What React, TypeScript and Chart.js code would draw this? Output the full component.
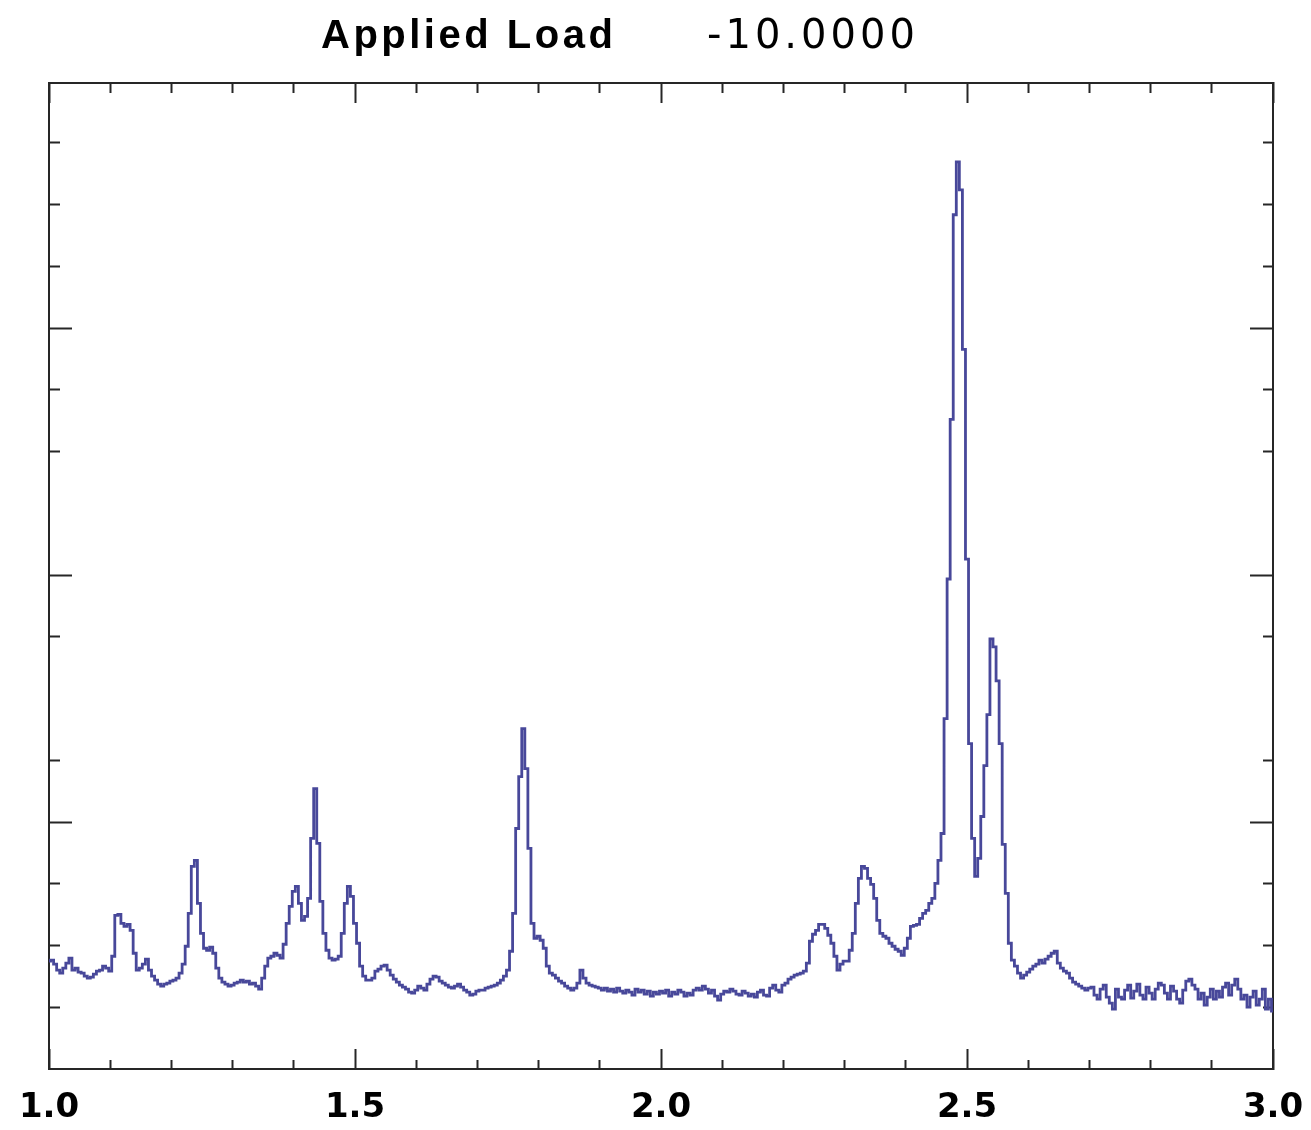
import React, { useEffect, useRef } from "react";
import { Chart, registerables } from "chart.js";

Chart.register(...registerables);

// ---- text ----
const TITLE_LABEL = "Applied Load";
const TITLE_VALUE = "-10.0000";

// ---- x axis (sampling grid and ticks) ----
const X_MIN = 1.0;
const X_MAX = 3.0;
const X_START = 1.0;
const X_STEP = 0.005;
const X_TICKS = [1.0, 1.1, 1.2, 1.3, 1.4, 1.5, 1.6, 1.7, 1.8, 1.9, 2.0, 2.1, 2.2, 2.3, 2.4, 2.5, 2.6, 2.7, 2.8, 2.9, 3.0];
const X_LABELED_TICKS = [1.0, 1.5, 2.0, 2.5, 3.0];

// ---- y axis (no labels, uneven minor/major marks) ----
const Y_MIN = 0;
const Y_MAX = 988;
const Y_TICK_STEP = 61.875;
const Y_TICK_INDEX = [1, 2, 3, 4, 5, 7, 8, 10, 11, 12, 13, 14, 15];
const Y_MAJOR_INDEX = [4, 8, 12];

// ---- series: intensity, one value per X_STEP ----
const intensity1 = [
  108, 109, 105, 99, 96, 101, 106, 111, 99, 101, 97, 96, 93, 91, 92, 95, 98, 99, 103, 101, 98,
  113, 154, 155, 146, 143, 145, 139, 116, 99, 101, 105, 110, 99, 93, 89, 85, 83, 85, 86, 88,
  89, 91, 96, 105, 123, 156, 203, 209, 166, 136, 121, 119, 122, 116, 101, 91, 87, 85, 83, 84,
  86, 87, 89, 87, 88, 85, 86, 83, 80, 91, 103, 111, 113, 116, 114, 111, 125, 146, 163, 178,
  183, 166, 149, 153, 171, 231, 281, 226, 168, 136, 119, 111, 109, 110, 113, 136, 166, 183, 173, 146,
];
const intensity2 = [
  126, 103, 93, 89, 89, 91, 98, 100, 103, 104, 99, 94, 90, 87, 84, 82, 80, 77, 76, 79,
  83, 81, 79, 85, 90, 93, 92, 88, 86, 84, 82, 81, 83, 85, 82, 79, 77, 74, 75, 78,
  79, 79, 81, 82, 83, 84, 86, 89, 93, 99, 118, 156, 241, 293, 341, 301, 221, 146, 131, 133,
  129, 121, 103, 96, 94, 91, 88, 86, 83, 81, 79, 81, 86, 99, 91, 86, 84, 83, 82, 81,
  79, 81, 78, 80, 77, 81, 78, 76, 79, 77, 74, 80, 77, 79, 75, 78, 73, 77, 75, 78,
];
const intensity3 = [
  76, 79, 73, 77, 75, 79, 77, 73, 76, 74, 79, 81, 79, 83, 80, 76, 79, 73, 69, 75,
  78, 77, 80, 78, 75, 74, 78, 76, 73, 75, 72, 77, 79, 74, 73, 81, 84, 79, 77, 84,
  86, 90, 92, 94, 95, 96, 98, 106, 128, 135, 139, 145, 145, 141, 134, 126, 113, 99, 105, 108,
  108, 119, 136, 166, 191, 203, 201, 191, 185, 171, 149, 136, 133, 131, 126, 123, 120, 118, 114, 121,
  131, 143, 144, 145, 151, 156, 159, 166, 171, 186, 209, 236, 351, 491, 651, 856, 909, 881, 721, 511,
];
const intensity4 = [
  326, 231, 193, 211, 253, 304, 355, 431, 423, 389, 326, 225, 176, 126, 109, 103, 96, 91, 94, 97,
  100, 103, 105, 109, 106, 110, 113, 116, 118, 106, 101, 98, 96, 91, 87, 85, 83, 81, 79, 81,
  82, 74, 70, 80, 84, 72, 66, 60, 80, 72, 70, 79, 84, 71, 78, 85, 74, 70, 82, 76,
  70, 80, 86, 84, 76, 70, 83, 78, 70, 66, 79, 88, 90, 84, 80, 70, 76, 64, 72, 80,
  70, 78, 72, 82, 86, 74, 84, 90, 80, 70, 74, 62, 72, 78, 64, 70, 80, 60, 70, 58,
];
const intensity = [...intensity1, ...intensity2, ...intensity3, ...intensity4];
const wavelength = intensity.map((_, i) => +(X_START + i * X_STEP).toFixed(3));

// ---- styles ----
const LINE_COLOR = "#48489a";
const FRAME_COLOR = "#262626";

const near = (a: number, b: number) => Math.abs(a - b) < 1e-6;
const isXMajor = (v: number) => X_LABELED_TICKS.some((m) => near(m, v));
const isYMajor = (v: number) => Y_MAJOR_INDEX.some((k) => near(k * Y_TICK_STEP, v));

const titlePlugin = {
  id: "loadTitle",
  afterDraw(chart: any) {
    const ctx = chart.ctx as any;
    const area = chart.chartArea;
    ctx.save();
    ctx.fillStyle = "#000";
    ctx.textAlign = "left";
    ctx.textBaseline = "alphabetic";
    ctx.font = 'bold 40px "Liberation Sans"';
    ctx.letterSpacing = "3.5px";
    ctx.fillText(TITLE_LABEL, area.left + 272, 48);
    ctx.font = '40px "DejaVu Sans"';
    ctx.letterSpacing = "4px";
    ctx.fillText(TITLE_VALUE, area.left + 658, 48);
    ctx.letterSpacing = "0px";
    ctx.restore();
  },
};

export default function App() {
  const ref = useRef<HTMLCanvasElement | null>(null);

  useEffect(() => {
    document.body.style.margin = "0";
    document.body.style.overflow = "hidden";
    const canvas = ref.current;
    if (!canvas) return;

    const xTicks = (s: any) => {
      s.ticks = X_TICKS.map((v) => ({ value: v }));
    };
    const yTicks = (s: any) => {
      s.ticks = Y_TICK_INDEX.map((k) => ({ value: k * Y_TICK_STEP }));
    };
    const border = { display: true, color: FRAME_COLOR, width: 2 };
    const smallFont = { size: 10, lineHeight: 1 };

    const chart = new Chart(canvas, {
      type: "line",
      data: {
        datasets: [
          {
            data: wavelength.map((x, i) => ({ x, y: intensity[i] })),
            borderColor: LINE_COLOR,
            borderWidth: 2.8,
            pointRadius: 0,
            fill: false,
            stepped: "middle",
            xAxisID: "x",
            yAxisID: "y",
          },
        ],
      },
      options: {
        animation: false,
        responsive: false,
        events: [],
        layout: { padding: { top: 0, left: 0, right: 0, bottom: -38 } },
        plugins: { legend: { display: false }, tooltip: { enabled: false }, title: { display: false } },
        scales: {
          x: {
            type: "linear",
            position: "bottom",
            min: X_MIN,
            max: X_MAX,
            afterBuildTicks: xTicks,
            border,
            grid: {
              drawOnChartArea: false,
              drawTicks: true,
              tickLength: -20,
              tickWidth: 2,
              tickColor: FRAME_COLOR,
              tickBorderDash: (c: any) => (c.tick && !isXMajor(c.tick.value) ? [10, 100] : []),
            },
            ticks: {
              autoSkip: false,
              maxRotation: 0,
              minRotation: 0,
              padding: 0,
              color: "#000",
              font: { family: "DejaVu Sans", weight: "bold", size: 34, lineHeight: 119 / 34 },
              callback: (v: any) => (isXMajor(Number(v)) ? Number(v).toFixed(1) : ""),
            },
          },
          x2: {
            type: "linear",
            position: "top",
            min: X_MIN,
            max: X_MAX,
            afterBuildTicks: xTicks,
            border,
            grid: {
              drawOnChartArea: false,
              drawTicks: true,
              tickLength: -20,
              tickWidth: 2,
              tickColor: FRAME_COLOR,
              tickBorderDash: (c: any) => (c.tick && !isXMajor(c.tick.value) ? [0, 10, 10, 100] : []),
            },
            ticks: {
              autoSkip: false,
              maxRotation: 0,
              minRotation: 0,
              padding: 0,
              font: { size: 10, lineHeight: 10.3 },
              callback: () => "",
            },
          },
          y: {
            type: "linear",
            position: "left",
            min: Y_MIN,
            max: Y_MAX,
            afterBuildTicks: yTicks,
            border,
            grid: {
              drawOnChartArea: false,
              drawTicks: true,
              tickLength: -23,
              tickWidth: 2,
              tickColor: FRAME_COLOR,
              tickBorderDash: (c: any) => (c.tick && !isYMajor(c.tick.value) ? [0, 12, 11, 100] : []),
            },
            ticks: { autoSkip: false, padding: 36, font: smallFont, callback: () => "" },
          },
          y2: {
            type: "linear",
            position: "right",
            min: Y_MIN,
            max: Y_MAX,
            afterBuildTicks: yTicks,
            border,
            grid: {
              drawOnChartArea: false,
              drawTicks: true,
              tickLength: -23,
              tickWidth: 2,
              tickColor: FRAME_COLOR,
              tickBorderDash: (c: any) => (c.tick && !isYMajor(c.tick.value) ? [11, 100] : []),
            },
            ticks: { autoSkip: false, padding: 30.5, font: smallFont, callback: () => "" },
          },
        },
      } as any,
      plugins: [titlePlugin],
    });

    return () => chart.destroy();
  }, []);

  return (
    <div style={{ width: 1311, height: 1130, background: "#fff" }}>
      <canvas ref={ref} width={1311} height={1130} style={{ display: "block" }} />
    </div>
  );
}
